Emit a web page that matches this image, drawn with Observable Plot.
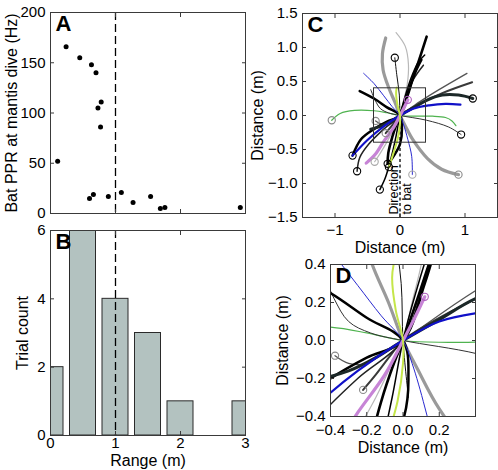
<!DOCTYPE html>
<html>
<head>
<meta charset="utf-8">
<script src="https://cdn.jsdelivr.net/npm/d3@7"></script>
<script src="https://cdn.jsdelivr.net/npm/@observablehq/plot@0.6"></script>
<style>
  html, body { margin: 0; padding: 0; background: #fff; }
  #fig { position: relative; width: 498px; height: 470px; overflow: hidden; background: #fff; }
  #fig > svg { position: absolute; }
</style>
</head>
<body>
<div id="fig"></div>
<script>
// ---------- DATA ----------
// Panel A: range (m) vs bat PPR (Hz) at mantis dive
const rangeM = [0.11, 0.24, 0.45, 0.63, 0.70, 0.73, 0.78, 0.77, 0.60, 0.66, 0.89, 1.09, 1.27, 1.54, 1.69, 1.76, 2.92];
const pprHz  = [52, 166, 155, 148, 140, 105, 111, 86, 15, 19, 17, 21, 11, 17, 5, 6, 6];
const rangeThreshold = 1;

// Panel B: histogram of range
const binCenters = [0, 0.5, 1, 1.5, 2, 2.5, 3];
const binCounts  = [2, 6, 4, 3, 1, 0, 1];
const barWidth = 0.4;

// Tick values
const ticksAx = [0, 1, 2, 3];
const ticksAy = [0, 50, 100, 150, 200];
const ticksBy = [0, 2, 4, 6];
const ticksCx = [-1, 0, 1];
const ticksCy = [-1.5, -1, -0.5, 0, 0.5, 1, 1.5];
const ticksDx = [-0.4, -0.2, 0, 0.2];
const ticksDy = [-0.4, -0.2, 0, 0.2, 0.4];

// Panels C/D: mantis trajectories (m), first point = start (ring)
const trajectoryPoints = [
  [[-1.05,-0.07],[-0.92,0.03],[-0.7,0.075],[-0.4,0.07],[-0.2,0.04],[0,0],[0.25,-0.01],[0.5,-0.01],[0.7,-0.03],[0.8,-0.08],[0.86,-0.15]],
  [[-0.39,-0.68],[-0.3,-0.55],[-0.15,-0.3],[-0.05,-0.1],[0,0],[0.05,0.2],[0.11,0.45],[0.13,0.75],[0.08,1.02],[-0.06,1.22]],
  [[0.9,-0.87],[0.64,-0.79],[0.42,-0.63],[0.2,-0.36],[0.08,-0.15],[0,0],[-0.08,0.2],[-0.17,0.4],[-0.26,0.67],[-0.27,0.91],[-0.22,1.14]],
  [[-0.08,0.85],[-0.05,0.6],[-0.01,0.3],[0,0],[0.03,-0.3]],
  [[0.94,-0.28],[0.75,-0.17],[0.41,-0.07],[0,0],[-0.18,0.04],[-0.3,0.1],[-0.38,0.22],[-0.45,0.38]],
  [[-0.375,-0.08],[-0.3,-0.12],[-0.2,-0.12],[-0.1,-0.06],[0,0],[0.3,0.2],[0.6,0.38],[1.03,0.62]],
  [[-0.22,-0.26],[-0.15,-0.18],[-0.07,-0.08],[0,0],[0.3,0.17],[0.65,0.33],[1.11,0.49]],
  [[-0.62,0.36],[-0.4,0.25],[-0.2,0.12],[0,0],[0.03,-0.2],[0,-0.42],[-0.1,-0.6],[-0.16,-0.68]],
  [[-0.31,-1.09],[-0.22,-0.9],[-0.13,-0.6],[-0.06,-0.3],[0,0],[0.07,0.25],[0.17,0.55],[0.28,0.78],[0.38,0.89]],
  [[-0.66,-0.82],[-0.62,-0.62],[-0.48,-0.42],[-0.25,-0.2],[0,0],[0.1,0.25],[0.2,0.52],[0.36,0.74]],
  [[-0.19,-0.71],[-0.18,-0.55],[-0.12,-0.32],[-0.05,-0.12],[0,0],[0.08,0.22],[0.16,0.45],[0.26,0.72],[0.41,1.16]],
  [[-0.73,-0.59],[-0.6,-0.35],[-0.4,-0.2],[-0.2,-0.09],[0,0],[0.12,0.3],[0.22,0.6],[0.33,0.82]],
  [[1.12,0.25],[0.9,0.3],[0.65,0.3],[0.4,0.22],[0.2,0.11],[0,0],[-0.15,-0.09],[-0.3,-0.16],[-0.45,-0.2]],
  [[0.19,-0.87],[0.18,-0.6],[0.12,-0.35],[0.05,-0.12],[0,0],[-0.12,0.13],[-0.25,0.29],[-0.4,0.47],[-0.56,0.62]],
  [[-0.73,-0.59],[-0.5,-0.36],[-0.25,-0.16],[0,0],[0.2,0.1],[0.45,0.15],[0.7,0.17],[0.93,0.16]],
  [[0.12,0.23],[0.06,0.11],[0,0],[-0.1,-0.18],[-0.25,-0.38],[-0.38,-0.57],[-0.52,-0.7]],
  [[-0.17,-0.76],[-0.1,-0.55],[-0.03,-0.32],[0,-0.12],[0,0],[-0.04,0.16],[-0.06,0.33],[-0.05,0.41]]
];
const batDirection = {x: 0, from: 0, to: -1.5};
const zoomDomain = [-0.4, 0.4];

// ---------- STYLES (kept separate from data) ----------
const trajectoryStyle = [
  {stroke: "#4fb34f", w: 1.2, ring: "#8a8a8a"},
  {stroke: "#b8b8b8", w: 1.2, ring: "#a8a8a8"},
  {stroke: "#9a9a9a", w: 3.2, ring: "#8a8a8a"},
  {stroke: "#111111", w: 1.0, ring: "#000000"},
  {stroke: "#333333", w: 1.0, ring: "#000000"},
  {stroke: "#555555", w: 1.3, ring: "#8a8a8a"},
  {stroke: "#3a3a3a", w: 2.0, ring: "#8a8a8a"},
  {stroke: "#000000", w: 2.5, ring: null},
  {stroke: "#000000", w: 1.5, ring: "#000000"},
  {stroke: "#222222", w: 1.5, ring: "#000000"},
  {stroke: "#000000", w: 2.6, ring: "#000000"},
  {stroke: "#000000", w: 2.5, ring: "#000000"},
  {stroke: "#1c2828", w: 3.0, ring: "#000000"},
  {stroke: "#2a2ad0", w: 1.0, ring: "#a8a8a8"},
  {stroke: "#1010c8", w: 2.2, ring: null},
  {stroke: "#c784d6", w: 3.2, ring: "#b060c0"},
  {stroke: "#c5e64a", w: 2.0, ring: "#000000"}
];

const FONT = "'Liberation Sans', Arial, Helvetica, sans-serif";
const TICK_FS = 15;
const TITLE_FS = 16;
const FRAME = "#3a3a3a";

function baseStyle() {
  return {fontFamily: FONT, fontSize: TICK_FS + "px", color: "#000", background: "transparent", overflow: "visible"};
}

// inward ticks on all four sides
function boxTicks(xt, yt) {
  const o = {tickSize: -4, tickFormat: () => "", label: null, stroke: FRAME};
  return [
    Plot.axisX(xt, {anchor: "bottom", ...o}),
    Plot.axisX(xt, {anchor: "top", ...o}),
    Plot.axisY(yt, {anchor: "left", ...o}),
    Plot.axisY(yt, {anchor: "right", ...o})
  ];
}
function yLabels(yt, pad) {
  return Plot.axisY(yt, {anchor: "left", tickSize: 0, tickPadding: pad, label: null, fontSize: TICK_FS});
}
function xLabels(xt, pad) {
  return Plot.axisX(xt, {anchor: "bottom", tickSize: 0, tickPadding: pad, label: null, fontSize: TICK_FS});
}
function yTitle(t, dx) {
  return Plot.text([t], {text: d => d, frameAnchor: "left", dx, rotate: -90, textAnchor: "middle", lineAnchor: "middle", fontSize: TITLE_FS});
}
function xTitle(t, dy) {
  return Plot.text([t], {text: d => d, frameAnchor: "bottom", dy, textAnchor: "middle", lineAnchor: "middle", fontSize: TITLE_FS});
}
function letter(t) {
  return Plot.text([t], {text: d => d, frameAnchor: "top-left", dx: 5, dy: 3, lineAnchor: "top", textAnchor: "start", fontWeight: "bold", fontSize: 22});
}

const fig = document.getElementById("fig");
function place(svg, left, top) {
  svg.style.left = left + "px";
  svg.style.top = top + "px";
  fig.appendChild(svg);
}

// ---------- PANEL A ----------
const scatter = rangeM.map((r, i) => ({range: r, ppr: pprHz[i]}));
const A = Plot.plot({
  width: 250, height: 230,
  marginLeft: 50, marginRight: 5, marginTop: 12, marginBottom: 17,
  style: baseStyle(),
  x: {domain: [0, 3]},
  y: {domain: [0, 200]},
  marks: [
    Plot.ruleX([rangeThreshold], {stroke: "#000", strokeWidth: 1.3, strokeDasharray: "8,4"}),
    Plot.dot(scatter, {x: "range", y: "ppr", r: 2.5, fill: "#000", stroke: "none"}),
    Plot.frame({stroke: FRAME}),
    ...boxTicks(ticksAx, ticksAy),
    yLabels(ticksAy, 5),
    yTitle("Bat PPR at mantis dive (Hz)", -39),
    letter("A")
  ]
});
place(A, 0, 0);

// ---------- PANEL B ----------
const bars = binCenters.map((c, i) => ({c, n: binCounts[i]})).filter(d => d.n > 0);
const B = Plot.plot({
  width: 250, height: 255,
  marginLeft: 50, marginRight: 5, marginTop: 15, marginBottom: 35,
  style: baseStyle(),
  x: {domain: [0, 3]},
  y: {domain: [0, 6]},
  marks: [
    Plot.rectY(bars, {x1: d => d.c - barWidth / 2, x2: d => d.c + barWidth / 2, y: "n", fill: "#b3c2c0", stroke: "#2a2a2a", strokeWidth: 1, clip: true}),
    Plot.ruleX([rangeThreshold], {stroke: "#000", strokeWidth: 1.3, strokeDasharray: "8,4"}),
    Plot.frame({stroke: FRAME}),
    ...boxTicks(ticksAx, ticksBy),
    yLabels(ticksBy, 5),
    xLabels(ticksAx, 2),
    yTitle("Trial count", -28),
    xTitle("Range (m)", 25),
    letter("B")
  ]
});
place(B, 0, 215);

// ---------- trajectories ----------
function trajectoryMarks() {
  const marks = [];
  trajectoryPoints.forEach((pts, i) => {
    const s = trajectoryStyle[i];
    marks.push(Plot.line(pts, {x: d => d[0], y: d => d[1], stroke: s.stroke, strokeWidth: s.w, curve: "catmull-rom", clip: true, strokeLinecap: "round"}));
  });
  trajectoryPoints.forEach((pts, i) => {
    const s = trajectoryStyle[i];
    if (s.ring) marks.push(Plot.dot([pts[0]], {x: d => d[0], y: d => d[1], r: 3.6, stroke: s.ring, strokeWidth: 1.1, fill: "none", clip: true}));
  });
  return marks;
}

// ---------- PANEL C ----------
const C = Plot.plot({
  width: 248, height: 262,
  marginLeft: 52, marginRight: 1, marginTop: 13, marginBottom: 45,
  style: baseStyle(),
  x: {domain: [-1.5, 1.5]},
  y: {domain: [-1.5, 1.5]},
  marks: [
    Plot.ruleX([batDirection], {x: "x", y1: "from", y2: "to", stroke: "#000", strokeWidth: 1.3, strokeDasharray: "3,2.5"}),
    ...trajectoryMarks(),
    Plot.rect([zoomDomain], {x1: d => d[0], x2: d => d[1], y1: d => d[0], y2: d => d[1], fill: "none", stroke: "#333", strokeWidth: 1}),
    Plot.text(["Direction"], {text: d => d, x: batDirection.x, y: batDirection.to, rotate: -90, textAnchor: "start", lineAnchor: "bottom", dx: -2.5, dy: -3, fontSize: 12.5}),
    Plot.text(["to bat"], {text: d => d, x: batDirection.x, y: batDirection.to, rotate: -90, textAnchor: "start", lineAnchor: "top", dx: 2.5, dy: -3, fontSize: 12.5}),
    Plot.frame({stroke: FRAME}),
    ...boxTicks(ticksCx, ticksCy),
    yLabels(ticksCy, 5),
    xLabels(ticksCx, 7),
    yTitle("Distance (m)", -45),
    xTitle("Distance (m)", 30),
    letter("C")
  ]
});
place(C, 250, 0);

// ---------- PANEL D ----------
const D = Plot.plot({
  width: 248, height: 220,
  marginLeft: 80, marginRight: 23, marginTop: 14, marginBottom: 54,
  style: baseStyle(),
  x: {domain: zoomDomain},
  y: {domain: zoomDomain},
  marks: [
    ...trajectoryMarks(),
    Plot.frame({stroke: FRAME}),
    ...boxTicks(ticksDx, ticksDy),
    yLabels(ticksDy, 5),
    xLabels(ticksDx, 8),
    yTitle("Distance (m)", -48),
    xTitle("Distance (m)", 31),
    letter("D")
  ]
});
place(D, 250, 250);
</script>
</body>
</html>
